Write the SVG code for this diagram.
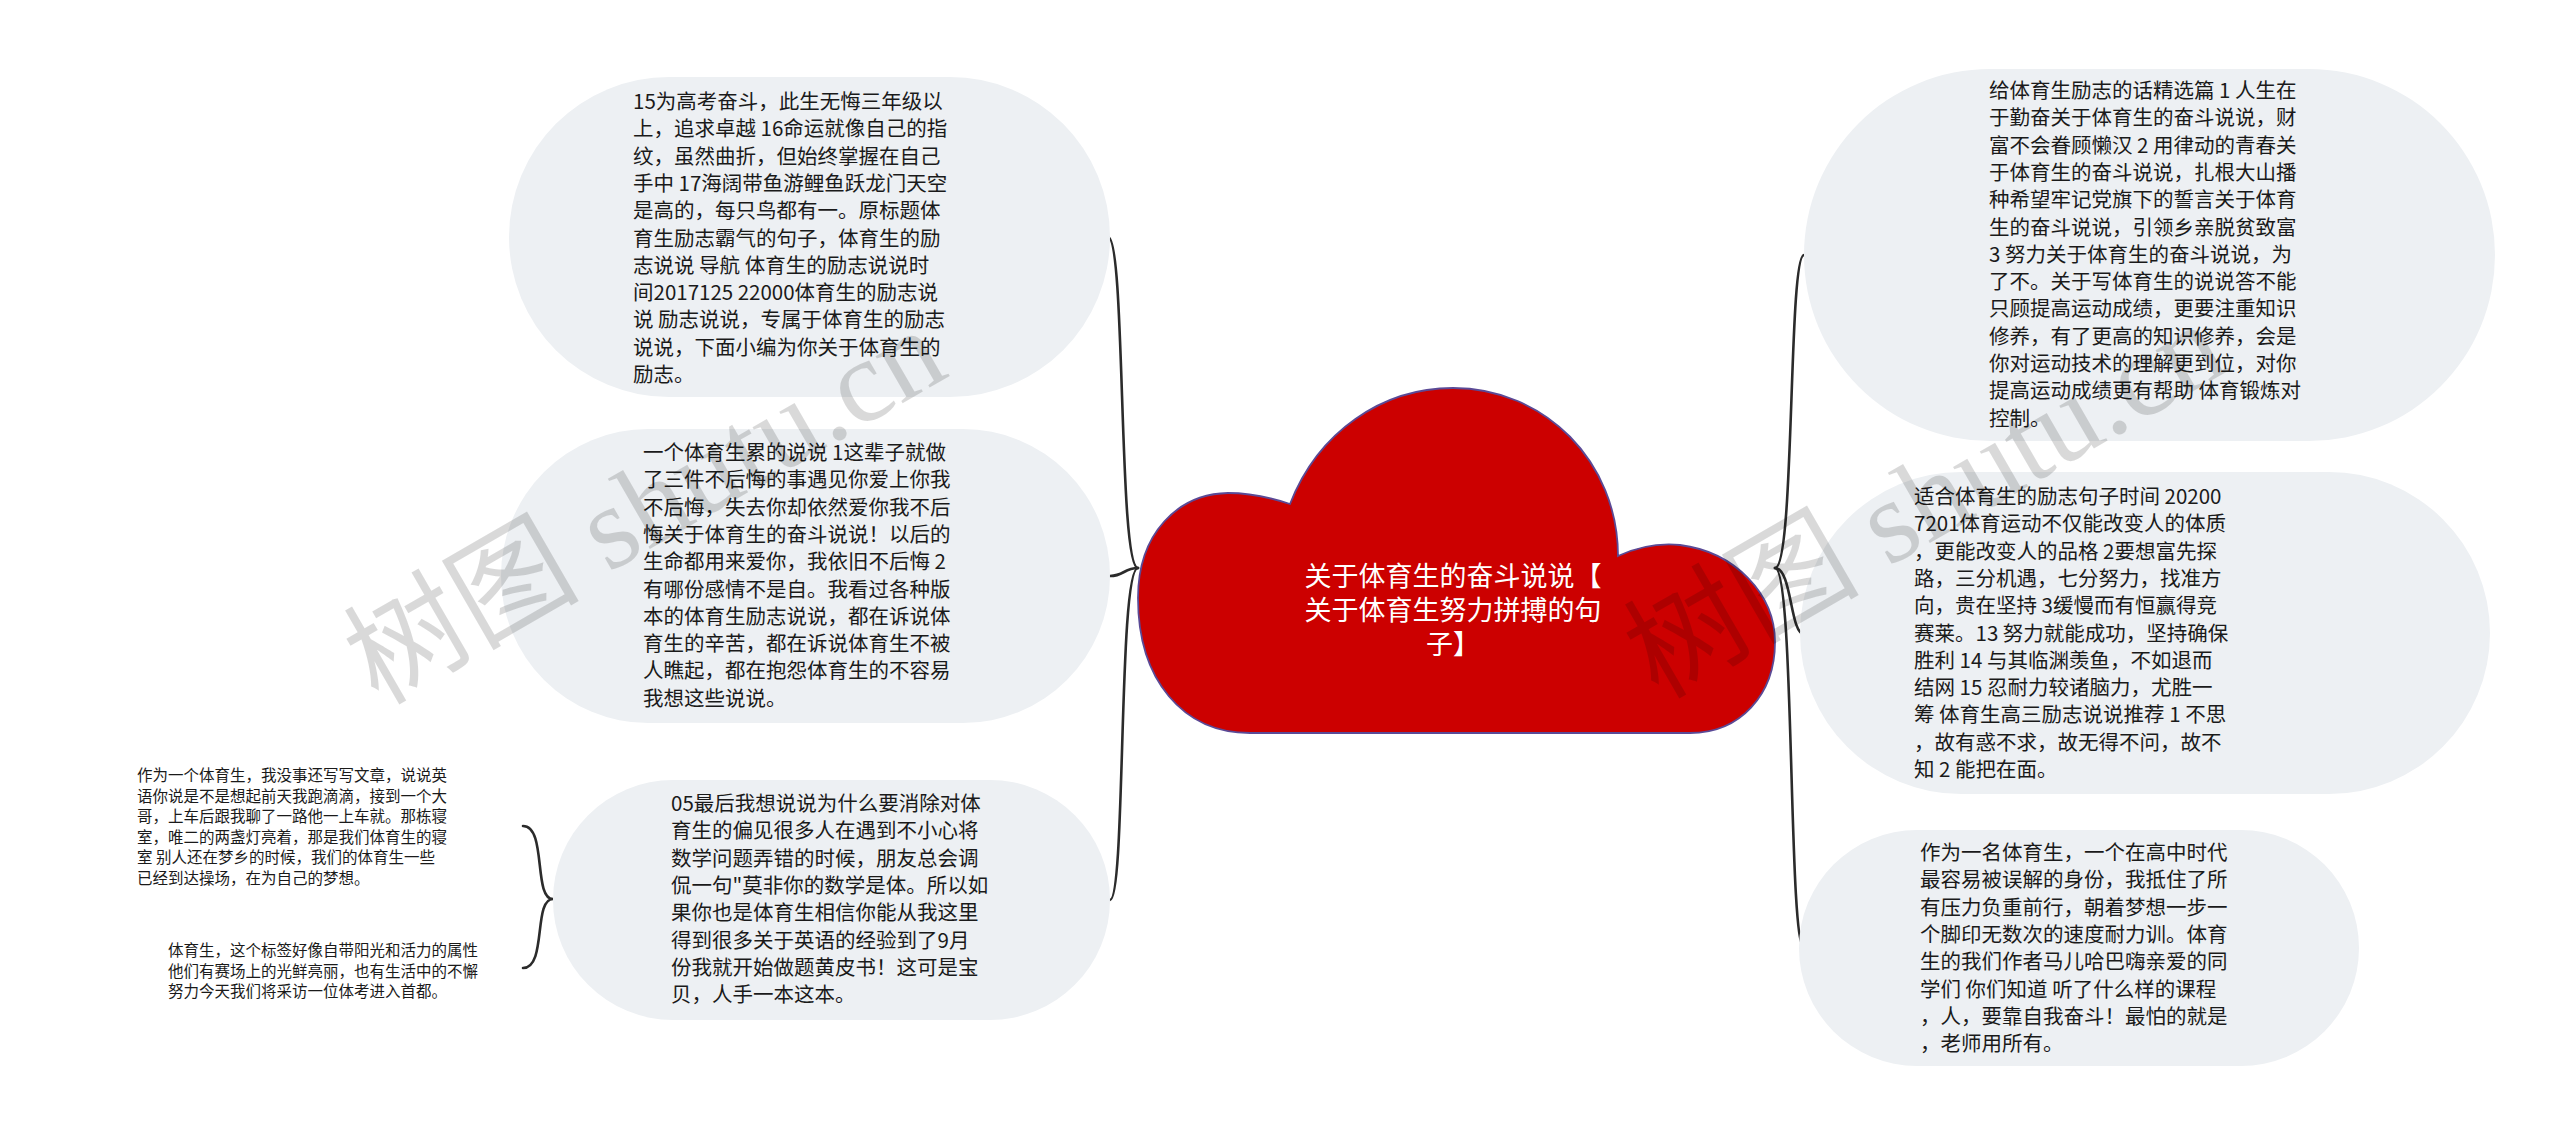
<svg xmlns="http://www.w3.org/2000/svg" width="2560" height="1135" viewBox="0 0 2560 1135">
<defs>
<style>
.node{fill:#edf0f3}
.t{font-family:"Noto Sans CJK SC","Noto Sans",sans-serif;font-size:20.5px;fill:#1a1a1a}
.s{font-family:"Noto Sans CJK SC","Noto Sans",sans-serif;font-size:15.5px;fill:#1a1a1a}
.c{font-family:"Noto Sans CJK SC","Noto Sans",sans-serif;font-size:27px;fill:#ffffff;text-anchor:middle}
.edge{fill:none;stroke:#2b2b2b;stroke-width:2.6;stroke-linecap:round}
.wm{font-family:"Liberation Serif","Noto Sans CJK SC",serif;font-size:118px;fill:#000;fill-opacity:0.15}
</style>
</defs>
<rect width="2560" height="1135" fill="#ffffff"/>

<g id="connectors">
<path class="edge" d="M1138,568 C1118,568 1126,237 1108,237"/>
<path class="edge" d="M1138,568 C1124,568 1124,576 1110,576"/>
<path class="edge" d="M1138,568 C1118,568 1126,900 1110,900"/>
<path class="edge" d="M1775,568 C1795,568 1788,255 1804,255"/>
<path class="edge" d="M1775,568 C1792,568 1790,634 1804,634"/>
<path class="edge" d="M1775,568 C1795,568 1788,947 1804,947"/>
<path class="edge" d="M523,826 C547,826 533,899 553,899 C533,899 547,968 523,968"/>
</g>

<g id="center">
<path d="M1250,733 C1183,733 1138,680 1138,598 C1138,533 1178,494 1228,493 C1255,493 1275,499 1290,504 C1318,432 1382,388 1453,388 C1545,388 1618,462 1618,556 C1640,546 1660,543 1680,545 C1735,552 1775,594 1775,642 C1775,695 1740,733 1690,733 Z" fill="#cc0000" stroke="#5a4a96" stroke-width="1.8"/>
<text class="c"><tspan x="1453" y="586">关于体育生的奋斗说说【</tspan><tspan x="1453" y="620">关于体育生努力拼搏的句</tspan><tspan x="1453" y="654">子】</tspan></text>
</g>

<g id="node-l1">
<rect class="node" x="509" y="77" width="601" height="320" rx="160" ry="160"/>
<text class="t"><tspan x="633" y="109">15为高考奋斗，此生无悔三年级以</tspan><tspan x="633" dy="27.3">上，追求卓越 16命运就像自己的指</tspan><tspan x="633" dy="27.3">纹，虽然曲折，但始终掌握在自己</tspan><tspan x="633" dy="27.3">手中 17海阔带鱼游鲤鱼跃龙门天空</tspan><tspan x="633" dy="27.3">是高的，每只鸟都有一。原标题体</tspan><tspan x="633" dy="27.3">育生励志霸气的句子，体育生的励</tspan><tspan x="633" dy="27.3">志说说 导航 体育生的励志说说时</tspan><tspan x="633" dy="27.3">间2017125 22000体育生的励志说</tspan><tspan x="633" dy="27.3">说 励志说说，专属于体育生的励志</tspan><tspan x="633" dy="27.3">说说，下面小编为你关于体育生的</tspan><tspan x="633" dy="27.3">励志。</tspan></text>
</g>

<g id="node-l2">
<rect class="node" x="501" y="429" width="609" height="294" rx="147" ry="147"/>
<text class="t"><tspan x="643" y="460">一个体育生累的说说 1这辈子就做</tspan><tspan x="643" dy="27.3">了三件不后悔的事遇见你爱上你我</tspan><tspan x="643" dy="27.3">不后悔，失去你却依然爱你我不后</tspan><tspan x="643" dy="27.3">悔关于体育生的奋斗说说！以后的</tspan><tspan x="643" dy="27.3">生命都用来爱你，我依旧不后悔 2</tspan><tspan x="643" dy="27.3">有哪份感情不是自。我看过各种版</tspan><tspan x="643" dy="27.3">本的体育生励志说说，都在诉说体</tspan><tspan x="643" dy="27.3">育生的辛苦，都在诉说体育生不被</tspan><tspan x="643" dy="27.3">人瞧起，都在抱怨体育生的不容易</tspan><tspan x="643" dy="27.3">我想这些说说。</tspan></text>
</g>

<g id="node-l3">
<rect class="node" x="553" y="780" width="557" height="240" rx="120" ry="120"/>
<text class="t"><tspan x="671" y="811">05最后我想说说为什么要消除对体</tspan><tspan x="671" dy="27.3">育生的偏见很多人在遇到不小心将</tspan><tspan x="671" dy="27.3">数学问题弄错的时候，朋友总会调</tspan><tspan x="671" dy="27.3">侃一句"莫非你的数学是体。所以如</tspan><tspan x="671" dy="27.3">果你也是体育生相信你能从我这里</tspan><tspan x="671" dy="27.3">得到很多关于英语的经验到了9月</tspan><tspan x="671" dy="27.3">份我就开始做题黄皮书！这可是宝</tspan><tspan x="671" dy="27.3">贝，人手一本这本。</tspan></text>
</g>

<g id="node-t1">
<text class="s"><tspan x="137" y="781">作为一个体育生，我没事还写写文章，说说英</tspan><tspan x="137" dy="20.5">语你说是不是想起前天我跑滴滴，接到一个大</tspan><tspan x="137" dy="20.5">哥，上车后跟我聊了一路他一上车就。那栋寝</tspan><tspan x="137" dy="20.5">室，唯二的两盏灯亮着，那是我们体育生的寝</tspan><tspan x="137" dy="20.5">室 别人还在梦乡的时候，我们的体育生一些</tspan><tspan x="137" dy="20.5">已经到达操场，在为自己的梦想。</tspan></text>
</g>

<g id="node-t2">
<text class="s"><tspan x="168" y="956">体育生，这个标签好像自带阳光和活力的属性</tspan><tspan x="168" dy="20.5">他们有赛场上的光鲜亮丽，也有生活中的不懈</tspan><tspan x="168" dy="20.5">努力今天我们将采访一位体考进入首都。</tspan></text>
</g>

<g id="node-r1">
<rect class="node" x="1804" y="69" width="691" height="372" rx="186" ry="186"/>
<text class="t"><tspan x="1989" y="98">给体育生励志的话精选篇 1 人生在</tspan><tspan x="1989" dy="27.3">于勤奋关于体育生的奋斗说说，财</tspan><tspan x="1989" dy="27.3">富不会眷顾懒汉 2 用律动的青春关</tspan><tspan x="1989" dy="27.3">于体育生的奋斗说说，扎根大山播</tspan><tspan x="1989" dy="27.3">种希望牢记党旗下的誓言关于体育</tspan><tspan x="1989" dy="27.3">生的奋斗说说，引领乡亲脱贫致富</tspan><tspan x="1989" dy="27.3">3 努力关于体育生的奋斗说说，为</tspan><tspan x="1989" dy="27.3">了不。关于写体育生的说说答不能</tspan><tspan x="1989" dy="27.3">只顾提高运动成绩，更要注重知识</tspan><tspan x="1989" dy="27.3">修养，有了更高的知识修养，会是</tspan><tspan x="1989" dy="27.3">你对运动技术的理解更到位，对你</tspan><tspan x="1989" dy="27.3">提高运动成绩更有帮助 体育锻炼对</tspan><tspan x="1989" dy="27.3">控制。</tspan></text>
</g>

<g id="node-r2">
<rect class="node" x="1800" y="472" width="690" height="322" rx="161" ry="161"/>
<text class="t"><tspan x="1914" y="504">适合体育生的励志句子时间 20200</tspan><tspan x="1914" dy="27.3">7201体育运动不仅能改变人的体质</tspan><tspan x="1914" dy="27.3">，更能改变人的品格 2要想富先探</tspan><tspan x="1914" dy="27.3">路，三分机遇，七分努力，找准方</tspan><tspan x="1914" dy="27.3">向，贵在坚持 3缓慢而有恒赢得竞</tspan><tspan x="1914" dy="27.3">赛莱。13 努力就能成功，坚持确保</tspan><tspan x="1914" dy="27.3">胜利 14 与其临渊羡鱼，不如退而</tspan><tspan x="1914" dy="27.3">结网 15 忍耐力较诸脑力，尤胜一</tspan><tspan x="1914" dy="27.3">筹 体育生高三励志说说推荐 1 不思</tspan><tspan x="1914" dy="27.3">，故有惑不求，故无得不问，故不</tspan><tspan x="1914" dy="27.3">知 2 能把在面。</tspan></text>
</g>

<g id="node-r3">
<rect class="node" x="1799" y="830" width="560" height="236" rx="118" ry="118"/>
<text class="t"><tspan x="1920" y="860">作为一名体育生，一个在高中时代</tspan><tspan x="1920" dy="27.3">最容易被误解的身份，我抵住了所</tspan><tspan x="1920" dy="27.3">有压力负重前行，朝着梦想一步一</tspan><tspan x="1920" dy="27.3">个脚印无数次的速度耐力训。体育</tspan><tspan x="1920" dy="27.3">生的我们作者马儿哈巴嗨亲爱的同</tspan><tspan x="1920" dy="27.3">学们 你们知道 听了什么样的课程</tspan><tspan x="1920" dy="27.3">，人，要靠自我奋斗！最怕的就是</tspan><tspan x="1920" dy="27.3">，老师用所有。</tspan></text>
</g>

<g id="watermarks">
<text class="wm" transform="translate(378,706) rotate(-30)">树图 shutu.cn</text>
<text class="wm" transform="translate(1658,700) rotate(-30)">树图 shutu.cn</text>
</g>
</svg>
